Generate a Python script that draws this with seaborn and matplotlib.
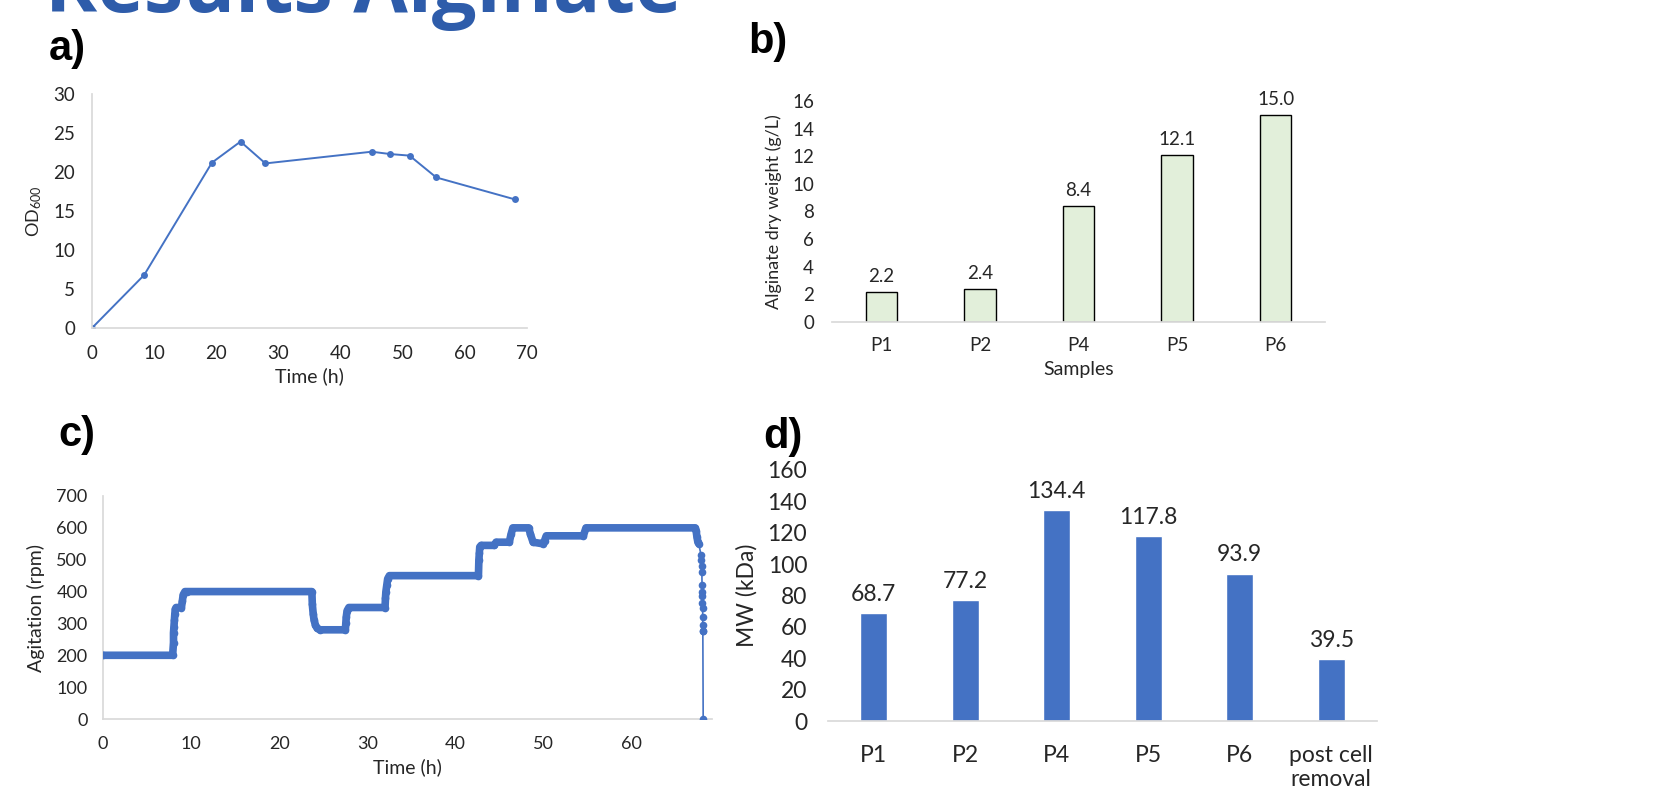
import matplotlib
matplotlib.use("Agg")
import matplotlib.pyplot as plt
import seaborn as sns

# a) growth curve
od_time = [0, 8.4, 19.3, 23.9, 27.9, 45.0, 48.0, 51.1, 55.4, 68.0]
od_value = [0, 6.8, 21.2, 23.9, 21.1, 22.6, 22.3, 22.1, 19.3, 16.5]

# b) alginate dry weight
dw_samples = ['P1', 'P2', 'P4', 'P5', 'P6']
dw_values = [2.2, 2.4, 8.4, 12.1, 15.0]

# c) agitation log
agit_time = [0, 7.9, 8.0, 8.0, 8.05, 8.1, 8.15, 8.2, 8.3, 8.9,
             9.0, 9.1, 9.3, 9.5, 23.7, 23.75, 23.85, 23.95, 24.1, 24.3,
             24.6, 27.5, 27.55, 27.6, 27.7, 27.9, 32.0, 32.05, 32.1, 32.2,
             32.3, 32.5, 42.6, 42.65, 42.7, 42.75, 42.9, 44.4, 44.6, 46.1,
             46.3, 46.5, 48.3, 48.5, 48.8, 49.9, 50.1, 50.3, 54.5, 54.8,
             67.2, 67.3, 67.4, 67.5, 67.6, 67.85, 67.9, 67.92, 67.95, 67.97,
             68.0, 68.0, 68.02, 68.03, 68.05, 68.05, 68.06, 68.06, 68.1]
agit_rpm = [200, 200, 240, 270, 290, 310, 330, 345, 350, 350,
            370, 390, 400, 400, 400, 360, 330, 310, 295, 285,
            280, 280, 300, 320, 340, 350, 350, 380, 400, 420,
            440, 450, 450, 500, 520, 540, 545, 545, 555, 555,
            580, 600, 600, 580, 555, 550, 560, 575, 575, 600,
            600, 590, 570, 555, 550, 515, 500, 480, 460, 420,
            400, 385, 365, 350, 320, 295, 275, 275, 0]
agit_band_end = 55  # index where the dense logged band stops

# d) molecular weight
mw_samples = ['P1', 'P2', 'P4', 'P5', 'P6', 'post cell\nremoval']
mw_values = [68.7, 77.2, 134.4, 117.8, 93.9, 39.5]

sns.set_theme(style="white")
plt.rcParams['font.family'] = ['Lato', 'DejaVu Sans']
plt.rcParams['mathtext.fontset'] = 'custom'
plt.rcParams['mathtext.rm'] = 'Lato'
plt.rcParams['mathtext.default'] = 'regular'

W, H = 1662, 789
fig = plt.figure(figsize=(W / 100, H / 100), dpi=100)
blue = '#4472C4'
grey = '#D9D9D9'
txt = '#262626'


def box(left, right, top, bottom):
    return [left / W, 1 - bottom / H, (right - left) / W, (bottom - top) / H]


def style(ax, size, xpad, ypad, left_spine=True):
    sns.despine(ax=ax, top=True, right=True, left=not left_spine)
    ax.spines['bottom'].set_color(grey)
    ax.spines['left'].set_color(grey)
    ax.tick_params(length=0, labelsize=size, colors=txt)
    ax.tick_params(axis='x', pad=xpad)
    ax.tick_params(axis='y', pad=ypad)


# a)
ax_a = fig.add_axes(box(92, 527, 94, 328))
sns.lineplot(x=od_time, y=od_value, ax=ax_a, color=blue, lw=1.4,
             marker='o', markersize=5, markeredgewidth=0)
ax_a.set_xlim(0, 70)
ax_a.set_ylim(0, 30)
ax_a.set_xticks(range(0, 71, 10))
ax_a.set_yticks(range(0, 31, 5))
style(ax_a, 13.5, 12, 12)
ax_a.set_xlabel('Time (h)', fontsize=14, color=txt, labelpad=4)
ax_a.set_ylabel('OD$_{600}$', fontsize=13, color=txt, labelpad=7)

# b)
ax_b = fig.add_axes(box(832, 1325, 101, 322))
sns.barplot(x=dw_samples, y=dw_values, ax=ax_b, color='#E2EFDA',
            edgecolor='black', linewidth=1, width=0.32, saturation=1)
ax_b.bar_label(ax_b.containers[0], fmt='%.1f', padding=5, fontsize=13.5, color=txt)
ax_b.set_xlim(-0.5, 4.5)
ax_b.set_ylim(0, 16)
ax_b.set_yticks(range(0, 17, 2))
style(ax_b, 13.5, 11, 13, left_spine=False)
ax_b.set_xlabel('Samples', fontsize=14, color=txt, labelpad=5)
ax_b.set_ylabel('Alginate dry weight (g/L)', fontsize=13, color=txt, labelpad=7)

# c)
ax_c = fig.add_axes(box(103, 712, 496, 719))
sns.lineplot(x=agit_time[:agit_band_end], y=agit_rpm[:agit_band_end], ax=ax_c,
             color=blue, lw=5.5, estimator=None, sort=False,
             solid_capstyle='round', solid_joinstyle='round')
sns.lineplot(x=agit_time, y=agit_rpm, ax=ax_c, color=blue, lw=1.2,
             estimator=None, sort=False, marker='o', markersize=5.5,
             markeredgewidth=0)
ax_c.set_xlim(0, 69.1)
ax_c.set_ylim(0, 700)
ax_c.set_xticks(range(0, 61, 10))
ax_c.set_yticks(range(0, 701, 100))
style(ax_c, 13, 12, 11)
for sp in ax_c.spines.values():
    sp.set_zorder(0)
ax_c.set_xlabel('Time (h)', fontsize=14, color=txt, labelpad=5)
ax_c.set_ylabel('Agitation (rpm)', fontsize=14, color=txt, labelpad=8)

# d)
ax_d = fig.add_axes(box(828, 1377, 470, 721))
sns.barplot(x=mw_samples, y=mw_values, ax=ax_d, color=blue, width=0.3,
            saturation=1)
ax_d.bar_label(ax_d.containers[0], fmt='%.1f', padding=6, fontsize=16.5, color=txt)
ax_d.set_xlim(-0.5, 5.5)
ax_d.set_ylim(0, 160)
ax_d.set_yticks(range(0, 161, 20))
style(ax_d, 16.5, 17, 15, left_spine=False)
for lbl in ax_d.get_xticklabels():
    lbl.set_linespacing(1.2)
ax_d.set_ylabel('MW (kDa)', fontsize=16.5, color=txt, labelpad=7)

# panel letters and cut-off heading
for lab, x, y in [('a)', 49, 60), ('b)', 748, 53), ('c)', 58, 446), ('d)', 763, 448)]:
    fig.text(x / W, 1 - y / H, lab, fontsize=30, fontweight='bold',
             family='Liberation Sans', color='black', va='baseline')
fig.text(45 / W, 1 - 12 / H, 'Results Alginate', fontsize=57, fontweight='bold',
         family='Open Sans', color='#2E5CAA', va='baseline')

fig.savefig('out.png', dpi=100)
